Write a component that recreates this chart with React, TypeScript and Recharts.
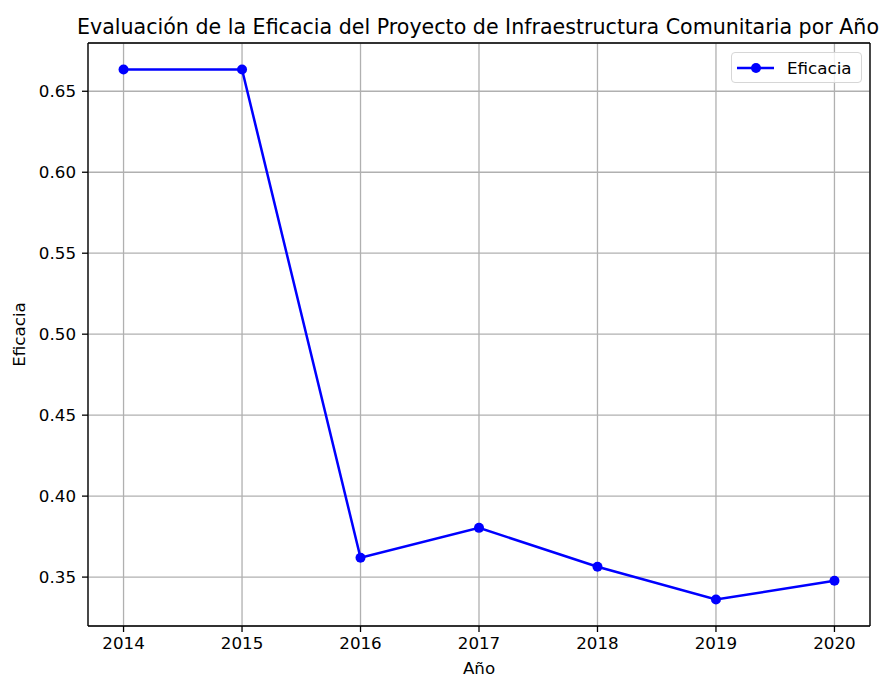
import { LineChart, Line, XAxis, YAxis, CartesianGrid, ReferenceLine } from "recharts";

const years = [2014, 2015, 2016, 2017, 2018, 2019, 2020];
const eficacia = [0.6634, 0.6634, 0.3619, 0.3804, 0.3564, 0.3362, 0.3477];
const yTicks = [0.35, 0.4, 0.45, 0.5, 0.55, 0.6, 0.65];

const data = years.map((y, i) => ({ year: y, eficacia: eficacia[i] }));

const font = "'DejaVu Sans', sans-serif";
const fs = 16.7;
const yMin = 0.3198;
const yMax = 0.6798;
const xMin = 2013.7;
const xMax = 2020.3;

const LegendBox = () => (
  <div
    style={{
      position: "absolute",
      top: 52,
      left: 731,
      width: 131,
      height: 31,
      border: "1px solid #d6d6d6",
      borderRadius: 4,
      background: "rgba(255,255,255,0.8)",
      boxSizing: "border-box",
      display: "flex",
      alignItems: "center",
      fontFamily: font,
      fontSize: fs,
      color: "#000",
    }}
  >
    <svg width={44} height={14} style={{ marginLeft: 4 }}>
      <line x1={1} y1={7} x2={38} y2={7} stroke="#0000ff" strokeWidth={2.5} />
      <circle cx={20} cy={7} r={5} fill="#0000ff" />
    </svg>
    <span style={{ marginLeft: 7 }}>Eficacia</span>
  </div>
);

export default function App() {
  return (
    <div style={{ position: "relative", width: 890, height: 677, background: "#fff" }}>
      <style>{`body{margin:0}`}</style>
      <div
        style={{
          position: "absolute",
          top: 14,
          left: 0,
          width: 956,
          textAlign: "center",
          fontFamily: font,
          fontSize: 20.6,
          lineHeight: "26px",
          color: "#000",
          whiteSpace: "nowrap",
        }}
      >
        Evaluación de la Eficacia del Proyecto de Infraestructura Comunitaria por Año
      </div>
      <LineChart width={890} height={677} data={data} margin={{ top: 43, right: 20, bottom: 0, left: 0 }}>
        <CartesianGrid stroke="#b0b0b0" strokeWidth={1.3} />
        <XAxis
          dataKey="year"
          type="number"
          domain={[xMin, xMax]}
          ticks={years}
          allowDataOverflow
          height={51}
          tickSize={6}
          tickMargin={5}
          tick={{ fill: "#000", fontSize: fs, fontFamily: font }}
          tickLine={{ stroke: "#000", strokeWidth: 1.3 }}
          axisLine={{ stroke: "#000", strokeWidth: 1.3 }}
          label={{ value: "Año", position: "insideBottom", offset: 3, fill: "#000", fontSize: fs, fontFamily: font }}
        />
        <YAxis
          type="number"
          domain={[yMin, yMax]}
          ticks={yTicks}
          allowDataOverflow
          width={88}
          tickSize={6}
          tickMargin={6}
          tickFormatter={(v: number) => v.toFixed(2)}
          tick={{ fill: "#000", fontSize: fs, fontFamily: font }}
          tickLine={{ stroke: "#000", strokeWidth: 1.3 }}
          axisLine={{ stroke: "#000", strokeWidth: 1.3 }}
          label={{ value: "Eficacia", angle: -90, position: "insideLeft", offset: 19, fill: "#000", fontSize: fs, fontFamily: font, style: { textAnchor: "middle" } }}
        />
        <ReferenceLine y={yMax} stroke="#000" strokeWidth={1.3} ifOverflow="visible" />
        <ReferenceLine x={xMax} stroke="#000" strokeWidth={1.3} ifOverflow="visible" />
        <Line
          dataKey="eficacia"
          stroke="#0000ff"
          strokeWidth={2.5}
          dot={{ r: 5, fill: "#0000ff", stroke: "#0000ff", strokeWidth: 0 }}
          activeDot={false}
          isAnimationActive={false}
        />
      </LineChart>
      <LegendBox />
    </div>
  );
}
